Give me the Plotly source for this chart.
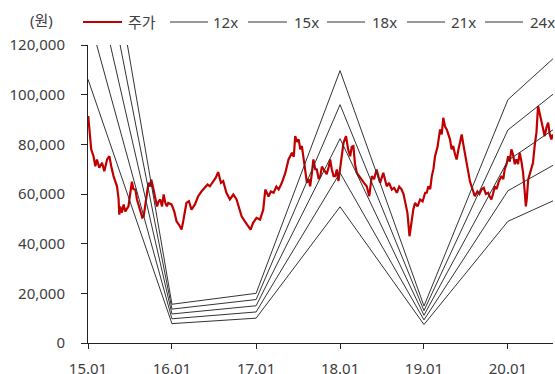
import plotly.graph_objects as go

# ---------------- data ----------------
price_dates = [
    "2015-01-02","2015-01-07","2015-01-15","2015-01-25","2015-02-02","2015-02-09","2015-02-19","2015-03-03",
    "2015-03-13","2015-03-25","2015-04-04","2015-04-12","2015-04-22","2015-05-07","2015-05-14","2015-05-17",
    "2015-05-21","2015-05-28","2015-06-05","2015-06-12","2015-06-19","2015-06-26","2015-07-04","2015-07-11",
    "2015-07-17","2015-07-26","2015-08-02","2015-08-08","2015-08-16","2015-08-25","2015-08-31","2015-09-07",
    "2015-09-13","2015-09-21","2015-09-29","2015-10-03","2015-10-13","2015-10-20","2015-10-28","2015-11-04",
    "2015-11-11","2015-11-19","2015-11-26","2015-12-03","2015-12-10","2015-12-16","2015-12-30","2016-01-11",
    "2016-01-21","2016-01-31","2016-02-12","2016-02-19","2016-03-04","2016-03-15","2016-03-26","2016-04-10",
    "2016-04-24","2016-05-09","2016-05-23","2016-06-04","2016-06-14","2016-06-29","2016-07-09","2016-07-20",
    "2016-08-01","2016-08-11","2016-08-25","2016-09-09","2016-09-24","2016-10-08","2016-10-18","2016-10-30",
    "2016-11-13","2016-11-28","2016-12-08","2016-12-19","2017-01-03","2017-01-18","2017-02-01","2017-02-10",
    "2017-02-24",
    "2017-03-06","2017-03-18","2017-03-30","2017-04-09","2017-04-23","2017-05-08","2017-05-22","2017-06-06",
    "2017-06-14","2017-06-20","2017-06-28","2017-07-05","2017-07-12","2017-07-19","2017-07-29","2017-08-10",
    "2017-08-18","2017-08-24","2017-08-31","2017-09-07","2017-09-15","2017-09-22","2017-09-30","2017-10-07",
    "2017-10-14","2017-10-21","2017-11-04","2017-11-13","2017-11-19","2017-11-26","2017-12-04","2017-12-11",
    "2017-12-18","2017-12-25","2018-01-01","2018-01-09","2018-01-16","2018-01-27","2018-02-05","2018-02-14",
    "2018-02-21","2018-02-28","2018-03-07","2018-03-15","2018-03-25","2018-04-05","2018-04-15","2018-04-27",
    "2018-05-08","2018-05-19","2018-05-29","2018-06-09","2018-06-17","2018-06-24","2018-07-08","2018-07-23",
    "2018-08-02","2018-08-14","2018-08-24","2018-09-05","2018-09-15","2018-09-26","2018-10-04","2018-10-11",
    "2018-10-21","2018-10-30","2018-11-04","2018-11-09","2018-11-16","2018-11-23","2018-12-04","2018-12-15",
    "2018-12-26","2019-01-06","2019-01-13","2019-01-20","2019-01-28","2019-02-04","2019-02-11","2019-02-18",
    "2019-03-01","2019-03-12","2019-03-19","2019-03-26","2019-04-03","2019-04-10","2019-04-17","2019-04-24",
    "2019-05-01","2019-05-08","2019-05-16","2019-05-23","2019-05-31","2019-06-06","2019-06-14","2019-06-21",
    "2019-06-28","2019-07-05","2019-07-12","2019-07-20","2019-07-27","2019-08-03","2019-08-10","2019-08-21",
    "2019-08-30","2019-09-08","2019-09-18","2019-09-27","2019-10-07","2019-10-14","2019-10-21","2019-10-28",
    "2019-11-05","2019-11-13","2019-11-22","2019-12-04","2019-12-12","2019-12-18","2019-12-26","2020-01-02",
    "2020-01-09","2020-01-16","2020-01-23","2020-01-31","2020-02-07","2020-02-14","2020-02-21","2020-02-29",
    "2020-03-07","2020-03-13","2020-03-19","2020-03-23","2020-03-29","2020-04-05","2020-04-12","2020-04-19",
    "2020-04-27","2020-05-04","2020-05-11","2020-05-19","2020-05-26","2020-06-02","2020-06-09","2020-06-17",
    "2020-06-24","2020-07-01","2020-07-08","2020-07-14",
]
price_values = [
    91400, 84700, 78000, 75200, 71200, 73900, 70600, 72600,
    69200, 73900, 75200, 71200, 67200, 63100, 58000, 51700,
    55000, 52500, 55800, 53000, 54000, 55000, 60500, 65000,
    62000, 61800, 57800, 56000, 53700, 50500, 51000, 55000,
    60000, 64500, 63000, 65800, 61800, 58000, 55000, 57000,
    57800, 55000, 59800, 56500, 55000, 56400, 55800, 53000,
    49000, 47700, 45700, 49000, 56400, 57100, 53700, 55800,
    59100, 61100, 62500, 63800, 63100, 65200, 66500, 68800,
    64500, 65200, 60500, 57800, 59800, 57800, 54400, 51000,
    49000, 47000, 45700, 48400, 50400, 49700, 53700, 61800,
    59000,
    61000, 60500, 63000, 61800, 64500, 68500, 73900, 76600,
    75000, 83300, 81000, 82000, 78000, 79300, 72600, 64500,
    66000, 63100, 68000, 73900, 70000, 69900, 66000, 67200,
    71000, 69900, 68000, 71000, 73900, 70000, 67200, 67200,
    69900, 65200, 70000, 76600, 80600, 83300, 78000, 75200,
    79000, 79300, 72000, 68500, 67000, 65800, 64500, 63100,
    59100, 67200, 66000, 69900, 67000, 64500, 68500, 63100,
    64500, 61800, 62500, 60500, 63000, 61800, 60000, 56400,
    52400, 43000, 47000, 51000, 54000, 56400, 55000, 57800,
    57000, 60500, 60500, 63100, 62000, 67200, 70000, 75200,
    79000, 86000, 84000, 90700, 87000, 86000, 83500, 82000,
    78000, 79300, 76000, 73900, 78000, 81000, 84000, 80000,
    76600, 72000, 68500, 65000, 63100, 61000, 59100, 61000,
    60000, 61800, 62500, 60000, 60500, 59000, 57800, 60000,
    63100, 62000, 65000, 67200, 66000, 70000, 72000, 75200,
    73000, 78000, 76000, 72000, 74000, 72000, 76600, 73000,
    68500, 62000, 55000, 58000, 65800, 68000, 71000, 72600,
    80000, 84700, 95400, 92000, 90000, 86000, 83300, 87000,
    88700, 84000, 82000, 84000,
]

band_dates = ["2015-01-01", "2016-01-01", "2017-01-01", "2018-01-01",
              "2019-01-01", "2020-01-01", "2020-07-15"]
band_12x = [106200, 7800, 10000, 54840, 7440, 49000, 57240]
band_15x = [132750, 9750, 12500, 68550, 9300, 61300, 71550]
band_18x = [159300, 11700, 15000, 82260, 11160, 73500, 85860]
band_21x = [185850, 13650, 17500, 95970, 13020, 85800, 100170]
band_24x = [212400, 15600, 20000, 109680, 14880, 98000, 114480]

band_names = ["12x", "15x", "18x", "21x", "24x"]
band_values = [band_12x, band_15x, band_18x, band_21x, band_24x]

y_tick_vals = [0, 20000, 40000, 60000, 80000, 100000, 120000]
y_tick_text = ["0", "20,000", "40,000", "60,000", "80,000", "100,000", "120,000"]
unit_label = "(원)"
price_name = "주가"

# ---------------- figure ----------------
W, H = 555, 374
ML, MR, MT, MB = 88, 2, 45, 31
PW, PH = W - ML - MR, H - MT - MB

def px_x(p):
    return (p - ML) / PW

def px_y(p):
    return (H - MB - p) / PH

FONT = "Noto Sans, Noto Sans CJK KR, sans-serif"
TXT = "#404040"
RED = "#C00000"
BAND = "#333333"

fig = go.Figure()
fig.add_trace(go.Scatter(x=price_dates, y=price_values, mode="lines", name=price_name,
                         line=dict(color=RED, width=2.2)))
for nm, vals in zip(band_names, band_values):
    fig.add_trace(go.Scatter(x=band_dates, y=vals, mode="lines", name=nm,
                             line=dict(color=BAND, width=1)))

# manual legend (positions in pixels)
legend_names = [price_name] + band_names
legend_colors = [RED] + [BAND] * 5
legend_widths = [2, 1, 1, 1, 1, 1]
legend_line_x = [(83, 122), (170, 208), (248, 287), (327, 365), (407, 445), (485, 523)]
legend_text_x = [126, 211, 292, 370, 449, 528]
LEG_Y = 22
shapes = []
annotations = []
for nm, col, lw, (x0, x1), tx in zip(legend_names, legend_colors, legend_widths,
                                     legend_line_x, legend_text_x):
    shapes.append(dict(type="line", xref="paper", yref="paper",
                       x0=px_x(x0), x1=px_x(x1), y0=px_y(LEG_Y), y1=px_y(LEG_Y),
                       line=dict(color=col, width=lw)))
    annotations.append(dict(text=nm, xref="paper", yref="paper",
                            x=px_x(tx), y=px_y(LEG_Y), xanchor="left", yanchor="middle",
                            showarrow=False, font=dict(size=15, color=TXT)))
annotations.append(dict(text=unit_label, xref="paper", yref="paper",
                        x=px_x(41), y=px_y(20), xanchor="center", yanchor="middle",
                        showarrow=False, font=dict(size=15, color=TXT)))

fig.update_layout(
    width=W, height=H,
    margin=dict(l=ML, r=MR, t=MT, b=MB, autoexpand=False),
    paper_bgcolor="white", plot_bgcolor="white",
    font=dict(family=FONT, size=15, color=TXT),
    showlegend=False,
    shapes=shapes,
    annotations=annotations,
)
fig.update_xaxes(type="date", range=["2015-01-01", "2020-07-15"],
                 tick0="2015-01-01", dtick="M12", tickformat="%y.%m",
                 showgrid=False, zeroline=False, automargin=False,
                 showline=True, linecolor="#222222", linewidth=1,
                 ticks="outside", ticklen=5, tickcolor="#222222",
                 ticklabelstandoff=7)
fig.update_yaxes(range=[0, 120000], tickvals=y_tick_vals, ticktext=y_tick_text,
                 showgrid=False, zeroline=False, automargin=False,
                 showline=True, linecolor="#222222", linewidth=1,
                 ticks="outside", ticklen=6, tickcolor="#222222",
                 ticklabelstandoff=13)

fig.write_html("out.html", config={"displayModeBar": False, "staticPlot": True},
               post_script="document.body.style.margin='0';document.body.style.overflow='hidden';")
